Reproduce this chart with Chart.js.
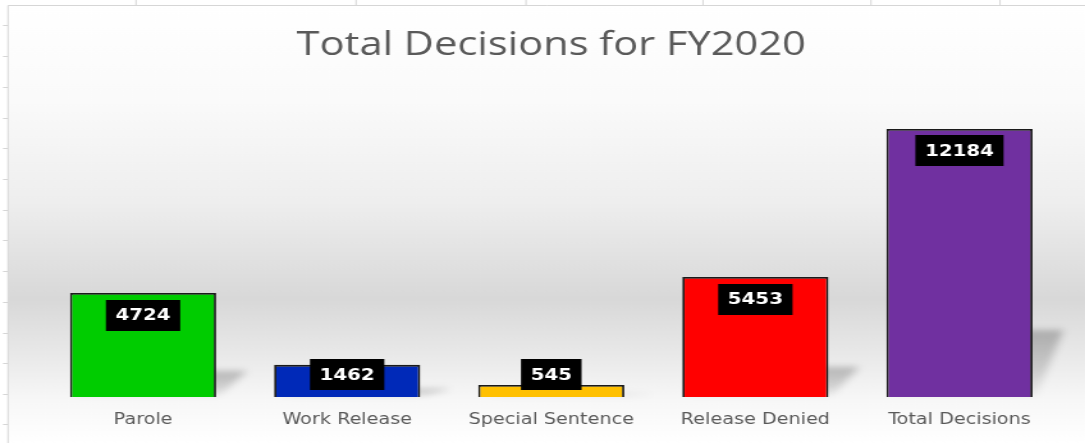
<!DOCTYPE html>
<html>
<head>
<meta charset="utf-8">
<script src="https://cdn.jsdelivr.net/npm/chart.js@4"></script>
<style>
  html, body { margin: 0; padding: 0; background: #ffffff; overflow: hidden; }
  /* the source picture is a horizontally stretched chart, so stretch ours the same way */
  #decisionsChart { display: block; transform: scaleX(1.2795); transform-origin: 0 0; }
</style>
</head>
<body>
<canvas id="decisionsChart" width="848" height="443" style="width:848px;height:443px"></canvas>
<script>
const SX = 1085 / 848; // horizontal stretch applied by css

// chart data
const categories = ['Parole', 'Work Release', 'Special Sentence', 'Release Denied', 'Total Decisions'];
const decisionCounts = [4724, 1462, 545, 5453, 12184];
const barColors = ['#00cc00', '#0029b8', '#ffc000', '#ff0000', '#7030a0'];

// sheet frame marks peeking around the chart (decoration only, page px)
const frameTicksTop = [136, 356, 526, 703, 871, 1000];
const frameTicksLeft = [25, 56, 87, 118, 148, 179, 210, 240, 271, 302, 333, 363, 394, 424];

// background gradient + frame
const backgroundPlugin = {
    id: 'sheetBackground',
    beforeDraw(chart) {
        const ctx = chart.ctx;
        const w = chart.width, h = chart.height;
        const left = 8 / SX;
        ctx.save();
        const grad = ctx.createLinearGradient(0, 6, 0, h);
        grad.addColorStop(0, '#ffffff');
        grad.addColorStop(0.22, '#fafafa');
        grad.addColorStop(0.45, '#eeeeee');
        grad.addColorStop(0.67, '#d8d8d8');
        grad.addColorStop(0.80, '#e9e9e9');
        grad.addColorStop(0.90, '#f7f7f7');
        grad.addColorStop(1, '#ffffff');
        ctx.fillStyle = grad;
        ctx.fillRect(left, 6, w - left, h - 6);

        ctx.strokeStyle = '#d6d6d6';
        ctx.lineWidth = 1;
        ctx.beginPath();
        ctx.moveTo(left, h);
        ctx.lineTo(left, 5.5);
        ctx.lineTo(w, 5.5);
        frameTicksTop.forEach(x => { ctx.moveTo(x / SX, 0); ctx.lineTo(x / SX, 5); });
        frameTicksLeft.forEach(y => { ctx.moveTo(3 / SX, y + 0.5); ctx.lineTo(left, y + 0.5); });
        ctx.stroke();
        ctx.restore();
    }
};

// soft perspective shadow behind each bar
const shadowPlugin = {
    id: 'barShadows',
    beforeDatasetsDraw(chart) {
        const ctx = chart.ctx;
        const meta = chart.getDatasetMeta(0);
        ctx.save();
        ctx.filter = 'blur(3px)';
        meta.data.forEach(bar => {
            const half = bar.width / 2;
            const left = bar.x - half, right = bar.x + half;
            const sh = (bar.base - bar.y) * 0.25;
            const dx = 24;
            const g = ctx.createLinearGradient(0, bar.base - sh, 0, bar.base);
            g.addColorStop(0, 'rgba(0,0,0,0.24)');
            g.addColorStop(0.6, 'rgba(0,0,0,0.14)');
            g.addColorStop(1, 'rgba(0,0,0,0.03)');
            ctx.fillStyle = g;
            ctx.beginPath();
            ctx.moveTo(left + 3, bar.base - 2);
            ctx.lineTo(right + 3, bar.base - 2);
            ctx.lineTo(right + dx, bar.base - sh);
            ctx.lineTo(left + dx, bar.base - sh);
            ctx.closePath();
            ctx.fill();
        });
        ctx.restore();
    }
};

// black boxed value labels
const valueLabelPlugin = {
    id: 'valueLabels',
    afterDatasetsDraw(chart) {
        const ctx = chart.ctx;
        const meta = chart.getDatasetMeta(0);
        ctx.save();
        ctx.font = 'bold 15.5px "DejaVu Sans"';
        ctx.textAlign = 'center';
        ctx.textBaseline = 'middle';
        meta.data.forEach((bar, i) => {
            const text = String(decisionCounts[i]);
            const tw = ctx.measureText(text).width;
            const cy = Math.min(bar.y + 22, bar.base - 22.5);
            const bw = tw + 15, bh = 31;
            ctx.fillStyle = '#000000';
            ctx.fillRect(bar.x - bw / 2, Math.round(cy - bh / 2), bw, bh);
            ctx.fillStyle = '#ffffff';
            ctx.fillText(text, bar.x, cy + 1);
        });
        ctx.restore();
    }
};

const ctx = document.getElementById('decisionsChart');
new Chart(ctx, {
    type: 'bar',
    data: {
        labels: categories,
        datasets: [{
            data: decisionCounts,
            backgroundColor: barColors,
            borderColor: '#1a1a1a',
            borderWidth: 1.8,
            categoryPercentage: 1,
            barPercentage: 0.716
        }]
    },
    options: {
        responsive: false,
        animation: false,
        layout: { padding: { left: 41 / SX, right: 23.5 / SX, top: 0, bottom: 0 } },
        scales: {
            x: {
                grid: { display: false, drawTicks: false },
                border: { display: false },
                ticks: {
                    color: '#595959',
                    padding: 14,
                    font: { family: '"DejaVu Sans"', size: 15 }
                },
                afterFit: scale => { scale.height = 46; }
            },
            y: {
                display: false,
                min: 0,
                max: 15000
            }
        },
        plugins: {
            legend: { display: false },
            tooltip: { enabled: false },
            title: {
                display: true,
                text: 'Total Decisions for FY2020',
                color: '#595959',
                font: { family: '"Open Sans"', size: 32.5, weight: 'normal' },
                padding: { top: 26, bottom: 2 }
            }
        }
    },
    plugins: [backgroundPlugin, shadowPlugin, valueLabelPlugin]
});
</script>
</body>
</html>
